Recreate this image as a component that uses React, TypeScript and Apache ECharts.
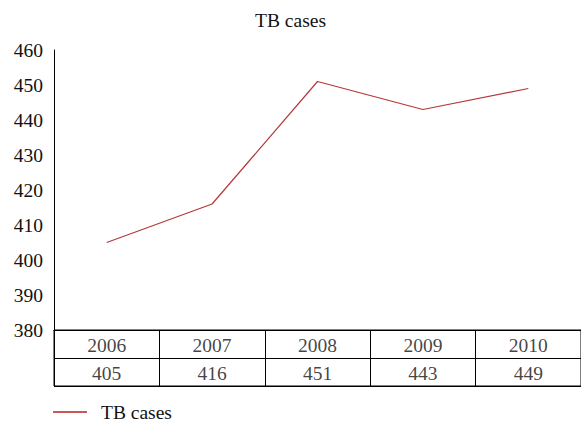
import React, { useEffect, useRef } from "react";
import * as echarts from "echarts";

const years = ["2006", "2007", "2008", "2009", "2010"];
const tbCases = [405, 416, 451, 443, 449];
const rows = ["year", "value"];

const FONT = "'Liberation Serif', 'DejaVu Serif', serif";

export default function App() {
  const ref = useRef<HTMLDivElement>(null);
  useEffect(() => {
    if (!ref.current) return;
    const chart = echarts.init(ref.current, undefined, { renderer: "svg" });
    chart.setOption({
      animation: false,
      textStyle: { fontFamily: FONT, color: "#111" },
      title: {
        text: "TB cases",
        left: "center",
        top: 5,
        textStyle: { fontFamily: FONT, fontSize: 19.5, fontWeight: "normal", color: "#111" },
      },
      legend: {
        left: 48,
        top: 400,
        itemWidth: 34,
        itemHeight: 14,
        padding: [2, 5, 2, 5],
        data: [{ name: "TB cases", icon: "path://M0,6L34,6L34,8L0,8Z" }],
        textStyle: {
          fontFamily: FONT,
          fontSize: 19.5,
          lineHeight: 20,
          color: "#111",
          padding: [0, 0, 0, 9],
        },
      },
      grid: [
        { left: 54, right: 0, top: 50, height: 280, containLabel: false },
        { left: 54, right: 0, top: 330, height: 56, show: true, borderColor: "#000", borderWidth: 1 },
      ],
      xAxis: [
        {
          type: "category",
          gridIndex: 0,
          data: years,
          boundaryGap: true,
          axisLine: { show: true, lineStyle: { color: "#000", width: 1 } },
          axisTick: { show: false },
          axisLabel: { show: false },
          splitLine: { show: false },
        },
        {
          type: "category",
          gridIndex: 1,
          data: years,
          boundaryGap: true,
          axisLine: { show: false },
          axisTick: { show: false },
          axisLabel: { show: false },
          splitLine: { show: true, lineStyle: { color: "#000", width: 1 } },
        },
      ],
      yAxis: [
        {
          type: "value",
          gridIndex: 0,
          min: 380,
          max: 460,
          interval: 10,
          axisLine: { show: true, lineStyle: { color: "#000", width: 1 } },
          axisTick: { show: false },
          axisLabel: { fontFamily: FONT, fontSize: 19.5, color: "#111", margin: 11 },
          splitLine: { show: false },
        },
        {
          type: "category",
          gridIndex: 1,
          data: rows,
          inverse: true,
          boundaryGap: true,
          axisLine: { show: false },
          axisTick: { show: false },
          axisLabel: { show: false },
          splitLine: { show: true, lineStyle: { color: "#000", width: 1 } },
        },
      ],
      series: [
        {
          name: "TB cases",
          type: "line",
          xAxisIndex: 0,
          yAxisIndex: 0,
          data: tbCases,
          symbol: "none",
          lineStyle: { color: "#b5373a", width: 1.2 },
          itemStyle: { color: "#c45a5a" },
        },
        {
          name: "yearRow",
          type: "scatter",
          xAxisIndex: 1,
          yAxisIndex: 1,
          symbolSize: 0,
          silent: true,
          data: years.map((y, i) => [i, 0]),
          label: {
            show: true,
            position: "inside",
            offset: [0, 1],
            formatter: (p: any) => years[p.dataIndex],
            fontFamily: FONT,
            fontSize: 19.5,
            color: "#111",
          },
        },
        {
          name: "valueRow",
          type: "scatter",
          xAxisIndex: 1,
          yAxisIndex: 1,
          symbolSize: 0,
          silent: true,
          data: tbCases.map((v, i) => [i, 1]),
          label: {
            show: true,
            position: "inside",
            offset: [0, 1],
            formatter: (p: any) => String(tbCases[p.dataIndex]),
            fontFamily: FONT,
            fontSize: 19.5,
            color: "#111",
          },
        },
      ],
    });
    return () => chart.dispose();
  }, []);
  return (
    <div
      ref={ref}
      style={{ position: "fixed", left: 0, top: 0, width: 581, height: 423, background: "#fff" }}
    />
  );
}
